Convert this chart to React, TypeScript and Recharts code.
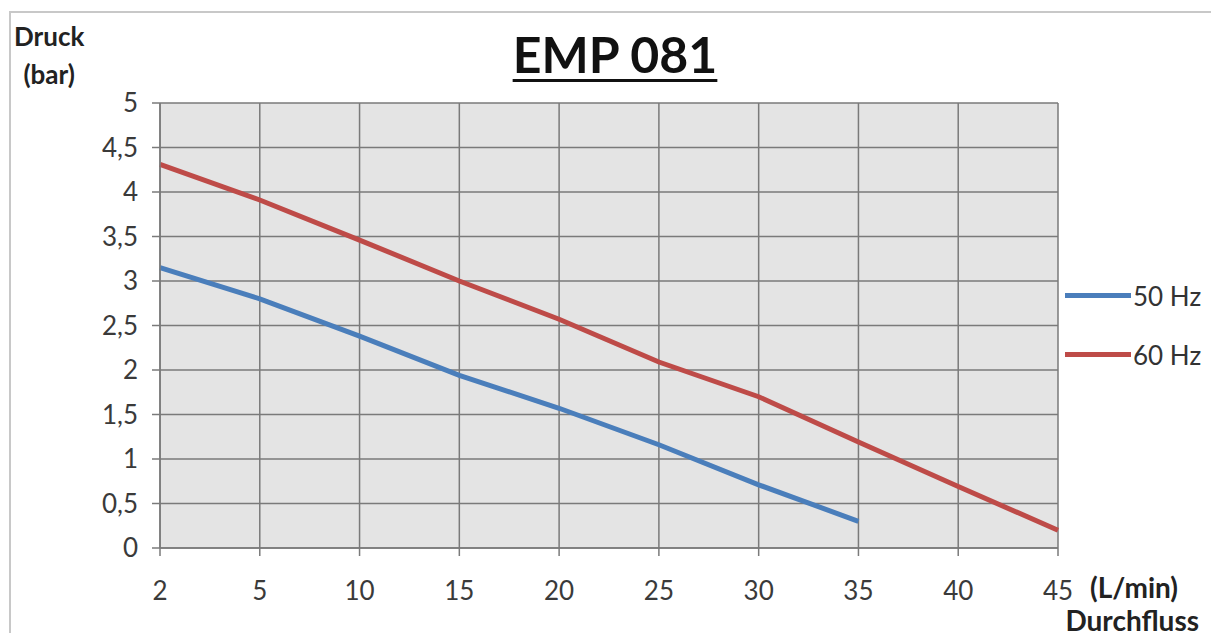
import { LineChart, Line, XAxis, YAxis, CartesianGrid } from 'recharts'

// Durchfluss (L/min)
const flow = ['2', '5', '10', '15', '20', '25', '30', '35', '40', '45']
// Druck (bar)
const hz50 = [3.15, 2.8, 2.38, 1.94, 1.57, 1.16, 0.71, 0.3, null, null]
const hz60 = [4.31, 3.91, 3.46, 3.0, 2.57, 2.09, 1.7, 1.19, 0.69, 0.2]
const yTicks = [0, 0.5, 1, 1.5, 2, 2.5, 3, 3.5, 4, 4.5, 5]

const BLUE = '#4a7ebb'
const RED = '#be4b48'
const FONT = 'Lato, "Open Sans", sans-serif'

const data = flow.map((f, i) => ({ flow: f, hz50: hz50[i], hz60: hz60[i] }))

const series = [
  { name: '50 Hz', color: BLUE },
  { name: '60 Hz', color: RED },
]

export default function App() {
  const tickStyle = { fontSize: 26, fill: '#3a3a3a', fontFamily: FONT }
  return (
    <div style={{ position: 'relative', width: 1219, height: 641, margin: -8, background: '#fff', overflow: 'hidden' }}>
      <div style={{ position: 'absolute', left: 9, top: 11, width: 1203, height: 660, border: '2px solid #c8c8c8' }} />
      <LineChart
        width={1219}
        height={641}
        data={data}
        margin={{ top: 103, right: 161, bottom: 53, left: 100 }}
      >
        <CartesianGrid fill="#e4e4e4" stroke="#7a7a7a" strokeWidth={1.5} />
        <XAxis
          dataKey="flow"
          height={40}
          tick={tickStyle}
          tickSize={8}
          tickMargin={26}
          stroke="#7a7a7a"
          strokeWidth={1.5}
          interval={0}
        />
        <YAxis
          domain={[0, 5]}
          ticks={yTicks}
          width={60}
          tick={tickStyle}
          tickSize={8}
          tickMargin={14}
          stroke="#7a7a7a"
          strokeWidth={1.5}
          tickFormatter={(v: number) => String(v).replace('.', ',')}
        />
        <Line type="linear" dataKey="hz50" name="50 Hz" stroke={BLUE} strokeWidth={5} dot={false} isAnimationActive={false} />
        <Line type="linear" dataKey="hz60" name="60 Hz" stroke={RED} strokeWidth={5} dot={false} isAnimationActive={false} />
      </LineChart>
      <div style={{ position: 'absolute', left: 1065, top: 266, fontFamily: FONT, fontSize: 26, color: '#333' }}>
        {series.map(s => (
          <div key={s.name} style={{ display: 'flex', alignItems: 'center', height: 59 }}>
            <span style={{ width: 66, height: 5, background: s.color, display: 'inline-block', marginRight: 2 }} />
            <span>{s.name}</span>
          </div>
        ))}
      </div>
      <div style={{ position: 'absolute', left: 0, width: 1230, top: 24, textAlign: 'center', fontFamily: FONT, fontWeight: 700, fontSize: 50, color: '#111', textDecoration: 'underline', textDecorationThickness: 3, textUnderlineOffset: 6 }}>
        EMP 081
      </div>
      <div style={{ position: 'absolute', left: 14, top: 17, fontFamily: FONT, fontWeight: 700, fontSize: 26, lineHeight: '38px', color: '#222', textAlign: 'center' }}>
        Druck<br />(bar)
      </div>
      <div style={{ position: 'absolute', left: 1090, top: 570, fontFamily: FONT, fontWeight: 700, fontSize: 28, color: '#222' }}>
        (L/min)
      </div>
      <div style={{ position: 'absolute', right: 20, top: 603, fontFamily: FONT, fontWeight: 700, fontSize: 28, color: '#222' }}>
        Durchfluss
      </div>
    </div>
  )
}
